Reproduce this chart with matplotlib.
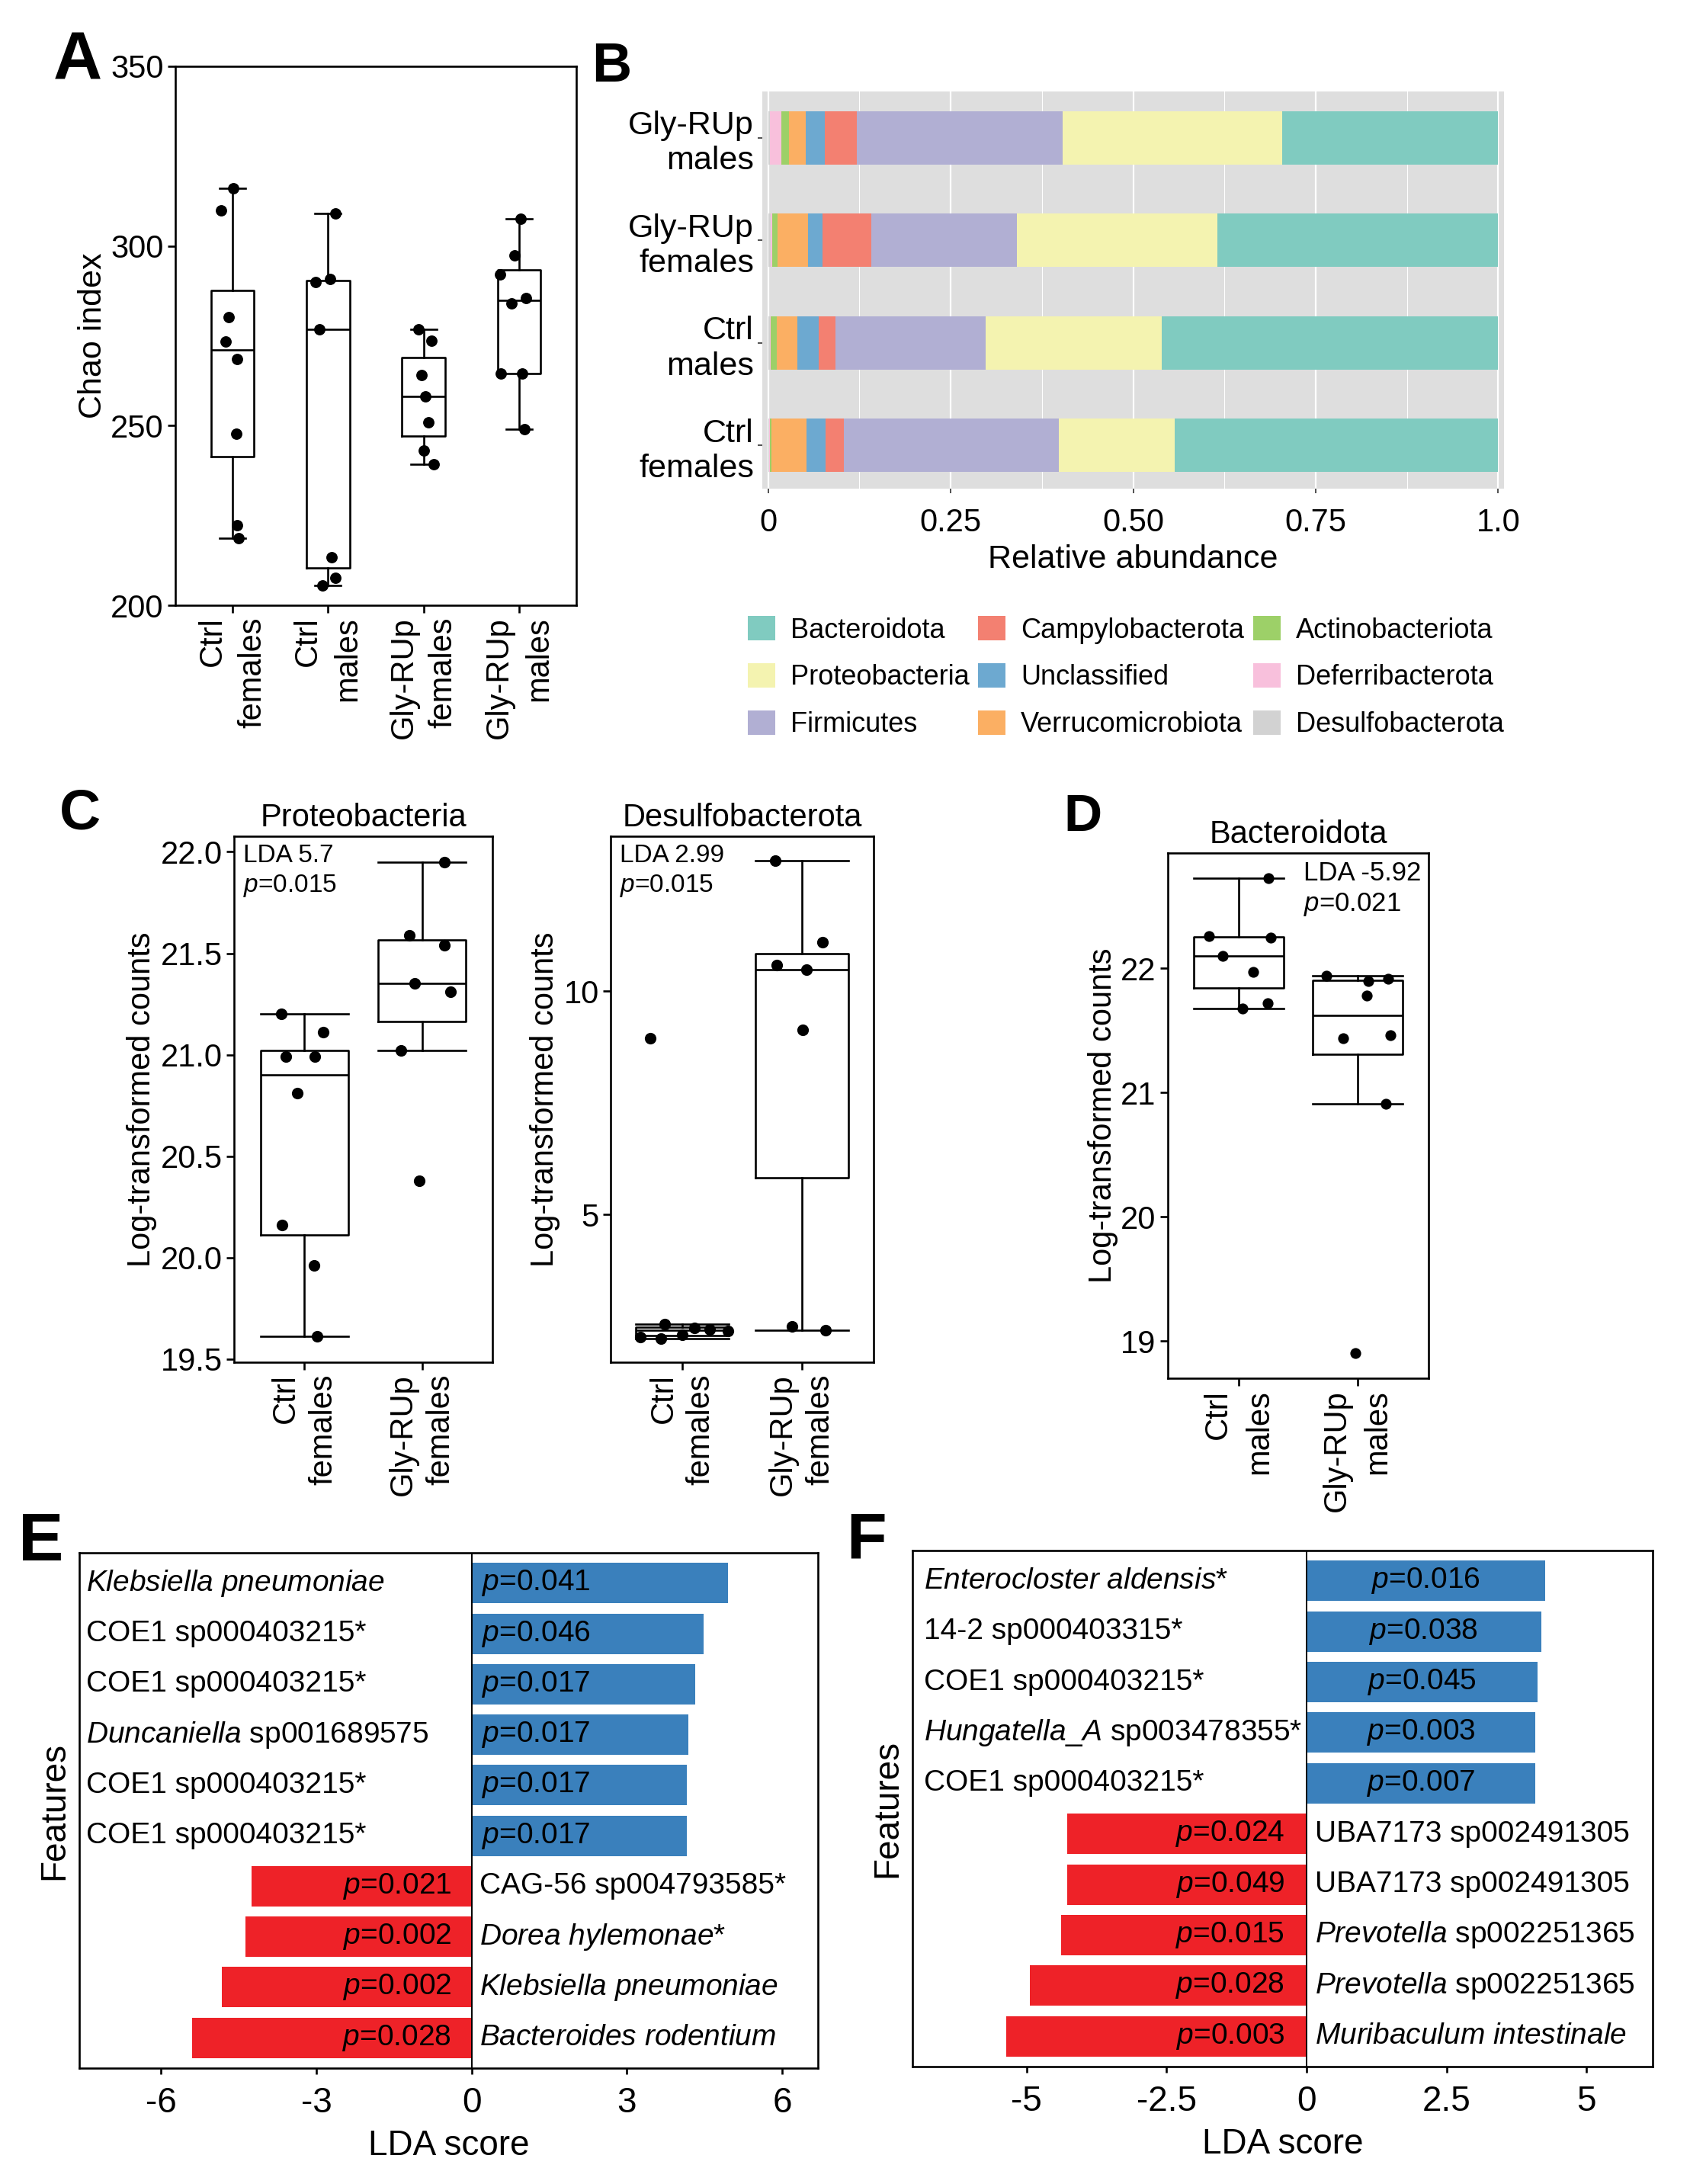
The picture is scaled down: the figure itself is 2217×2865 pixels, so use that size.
import numpy as np
import matplotlib
matplotlib.use("Agg")
import matplotlib.pyplot as plt
from matplotlib.patches import Patch

plt.rcParams['font.family'] = ['Liberation Sans', 'DejaVu Sans']
plt.rcParams['axes.unicode_minus'] = False
plt.rcParams['mathtext.fontset'] = 'custom'
plt.rcParams['mathtext.rm'] = 'Liberation Sans'
plt.rcParams['mathtext.it'] = 'Liberation Sans:italic'
plt.rcParams['mathtext.default'] = 'regular'

# ---------------- data ----------------
# Panel A: Chao index
A_groups = ["Ctrl\nfemales", "Ctrl\nmales", "Gly-RUp\nfemales", "Gly-RUp\nmales"]
A_ctrl_f = [316.0, 309.8, 280.3, 273.4, 268.6, 247.8, 222.2, 218.6]
A_ctrl_f_jit = [0.01, -0.12, -0.04, -0.07, 0.05, 0.04, 0.05, 0.06]
A_ctrl_m = [309.1, 290.9, 289.9, 276.7, 213.3, 207.6, 205.6]
A_ctrl_m_jit = [0.08, 0.02, -0.13, -0.09, 0.04, 0.08, -0.06]
A_gly_f = [276.7, 273.7, 264.0, 258.1, 251.0, 243.1, 239.2]
A_gly_f_jit = [-0.05, 0.08, -0.02, 0.02, 0.05, 0.0, 0.11]
A_gly_m = [307.5, 297.3, 292.0, 285.6, 284.0, 264.6, 264.4, 249.1]
A_gly_m_jit = [0.02, -0.05, -0.2, 0.07, -0.08, 0.03, -0.19, 0.06]

# Panel B: relative abundance (groups bottom -> top)
B_groups = ["Ctrl\nfemales", "Ctrl\nmales", "Gly-RUp\nfemales", "Gly-RUp\nmales"]
B_desulfobacterota = [0.001, 0.002, 0.003, 0.002]
B_deferribacterota = [0.001, 0.002, 0.003, 0.016]
B_actinobacteriota = [0.003, 0.008, 0.007, 0.011]
B_verrucomicrobiota = [0.048, 0.028, 0.042, 0.023]
B_unclassified = [0.026, 0.029, 0.019, 0.026]
B_campylobacterota = [0.025, 0.023, 0.067, 0.044]
B_firmicutes = [0.294, 0.206, 0.200, 0.281]
B_proteobacteria = [0.159, 0.241, 0.274, 0.301]
B_bacteroidota = [0.443, 0.461, 0.385, 0.296]
B_ticks = [0, 0.25, 0.5, 0.75, 1.0]
B_ticklabels = ["0", "0.25", "0.50", "0.75", "1.0"]

# Panel C: Proteobacteria / Desulfobacterota (females)
C_groups = ["Ctrl\nfemales", "Gly-RUp\nfemales"]
C1_ctrl = [21.20, 21.11, 20.99, 20.99, 20.81, 20.16, 19.96, 19.61]
C1_ctrl_jit = [-0.2, 0.16, -0.16, 0.09, -0.06, -0.19, 0.08, 0.11]
C1_gly = [21.95, 21.59, 21.54, 21.35, 21.31, 21.02, 20.38]
C1_gly_jit = [0.19, -0.11, 0.19, -0.06, 0.24, -0.18, -0.02]
C2_ctrl = [8.95, 2.25, 2.22, 2.55, 2.31, 2.45, 2.42, 2.39]
C2_ctrl_jit = [-0.27, -0.35, -0.18, -0.15, 0.0, 0.1, 0.23, 0.38]
C2_gly = [12.92, 11.10, 10.59, 10.49, 9.13, 2.50, 2.41]
C2_gly_jit = [-0.22, 0.17, -0.21, 0.04, 0.01, -0.08, 0.2]

# Panel D: Bacteroidota (males)
D_groups = ["Ctrl\nmales", "Gly-RUp\nmales"]
D_ctrl = [22.73, 22.26, 22.25, 22.10, 21.97, 21.72, 21.68]
D_ctrl_jit = [0.25, -0.25, 0.27, -0.14, 0.12, 0.24, 0.03]
D_gly = [21.94, 21.92, 21.90, 21.78, 21.46, 21.44, 20.91, 18.90]
D_gly_jit = [-0.26, 0.26, 0.09, 0.08, 0.28, -0.12, 0.24, -0.02]

# Panel E: LDA (females)
E_features = [r"$\mathit{Klebsiella\ pneumoniae}$", "COE1 sp000403215*", "COE1 sp000403215*",
              r"$\mathit{Duncaniella}$ sp001689575", "COE1 sp000403215*", "COE1 sp000403215*",
              "CAG-56 sp004793585*", r"$\mathit{Dorea\ hylemonae}$*",
              r"$\mathit{Klebsiella\ pneumoniae}$", r"$\mathit{Bacteroides\ rodentium}$"]
E_lda = [4.95, 4.48, 4.32, 4.19, 4.15, 4.15, -4.25, -4.375, -4.82, -5.40]
E_p = ["0.041", "0.046", "0.017", "0.017", "0.017", "0.017", "0.021", "0.002", "0.002", "0.028"]

# Panel F: LDA (males)
F_features = [r"$\mathit{Enterocloster\ aldensis}$*", "14-2 sp000403315*", "COE1 sp000403215*",
              r"$\mathit{Hungatella\_A}$ sp003478355*", "COE1 sp000403215*",
              "UBA7173 sp002491305", "UBA7173 sp002491305",
              r"$\mathit{Prevotella}$ sp002251365", r"$\mathit{Prevotella}$ sp002251365",
              r"$\mathit{Muribaculum\ intestinale}$"]
F_lda = [4.26, 4.19, 4.12, 4.09, 4.09, -4.28, -4.28, -4.39, -4.94, -5.37]
F_p = ["0.016", "0.038", "0.045", "0.003", "0.007", "0.024", "0.049", "0.015", "0.028", "0.003"]

# ---------------- styling ----------------
W, H = 2217, 2865
fig = plt.figure(figsize=(W / 100, H / 100), dpi=100)

LW = 1.9
BLUE = "#3A80BC"
RED = "#EE2228"
phyla_colors = {
    "Bacteroidota": "#80CBC0", "Proteobacteria": "#F4F3B0", "Firmicutes": "#B1AFD3",
    "Campylobacterota": "#F38071", "Unclassified": "#6DA9D0", "Verrucomicrobiota": "#FBAF63",
    "Actinobacteriota": "#9DD068", "Deferribacterota": "#F8C0DC", "Desulfobacterota": "#D2D2D2",
}


def add_ax(x0, y0, x1, y1):
    return fig.add_axes([x0 / W, 1 - y1 / H, (x1 - x0) / W, (y1 - y0) / H])


def frame(ax, tick_fs):
    for s in ax.spines.values():
        s.set_linewidth(LW)
        s.set_color("black")
    ax.tick_params(axis="both", which="major", length=7, width=LW, labelsize=tick_fs,
                   color="black", labelcolor="black", pad=4)


def box_panel(ax, vals, jits, width, capw, s=115):
    pos = np.arange(1, len(vals) + 1)
    lp = dict(color="black", linewidth=LW)
    ax.boxplot(vals, positions=pos, widths=width, capwidths=capw, showfliers=False,
               boxprops=lp, whiskerprops=lp, capprops=lp, medianprops=lp, manage_ticks=False)
    for p, v, j in zip(pos, vals, jits):
        ax.scatter(p + np.asarray(j), v, s=s, color="black", zorder=3, linewidths=0)


def letter(x, y, t, fs):
    fig.text(x / W, 1 - y / H, t, fontsize=fs, fontweight="bold", ha="left", va="top")


# ---------------- Panel A ----------------
axA = add_ax(230, 87, 756, 794)
box_panel(axA, [A_ctrl_f, A_ctrl_m, A_gly_f, A_gly_m],
          [A_ctrl_f_jit, A_ctrl_m_jit, A_gly_f_jit, A_gly_m_jit], 0.45, 0.27)
axA.set_xlim(0.4, 4.6)
axA.set_ylim(200, 350)
axA.set_yticks([200, 250, 300, 350])
axA.set_xticks(range(1, 5))
axA.set_xticklabels(A_groups, rotation=90, ha="center", va="top", multialignment="right",
                    linespacing=1.4)
frame(axA, 30)
axA.set_ylabel("Chao index", fontsize=31, labelpad=2)
letter(70, 40, "A", 64)

# ---------------- Panel B ----------------
axB = add_ax(1000, 120, 1973, 641)
axB.set_facecolor("#DEDEDE")
for s in axB.spines.values():
    s.set_visible(False)
ypos = np.arange(1, 5)
stack = [("Desulfobacterota", B_desulfobacterota), ("Deferribacterota", B_deferribacterota),
         ("Actinobacteriota", B_actinobacteriota), ("Verrucomicrobiota", B_verrucomicrobiota),
         ("Unclassified", B_unclassified), ("Campylobacterota", B_campylobacterota),
         ("Firmicutes", B_firmicutes), ("Proteobacteria", B_proteobacteria),
         ("Bacteroidota", B_bacteroidota)]
left = np.zeros(4)
for name, vals in stack:
    v = np.asarray(vals)
    axB.barh(ypos, v, left=left, height=0.52, color=phyla_colors[name], linewidth=0, zorder=2)
    left = left + v
axB.set_xlim(-0.008, 1.008)
axB.set_ylim(0.58, 4.45)
axB.set_xticks(B_ticks)
axB.set_xticklabels(B_ticklabels)
axB.set_xticks([0.125, 0.375, 0.625, 0.875], minor=True)
axB.set_yticks(ypos)
axB.set_yticklabels(B_groups, multialignment="right", linespacing=1.2)
axB.grid(which="major", axis="x", color="white", linewidth=1.6, zorder=0)
axB.grid(which="minor", axis="x", color="white", linewidth=0.8, zorder=0)
axB.set_axisbelow(True)
axB.tick_params(axis="both", which="major", length=4, width=1.2, color="#333333",
                labelsize=31, pad=4)
axB.tick_params(axis="x", labelsize=30, pad=14)
axB.tick_params(which="minor", length=0)
axB.set_xlabel("Relative abundance", fontsize=31, labelpad=6)
letter(776, 54, "B", 52)

legend_order = ["Bacteroidota", "Proteobacteria", "Firmicutes", "Campylobacterota",
                "Unclassified", "Verrucomicrobiota", "Actinobacteriota", "Deferribacterota",
                "Desulfobacterota"]
handles = [Patch(facecolor=phyla_colors[n], edgecolor="none", label=n) for n in legend_order]
fig.legend(handles=handles, ncol=3, loc="upper left", bbox_to_anchor=(981 / W, 1 - 808 / H),
           frameon=False, fontsize=26, handlelength=1.0, handleheight=1.0,
           handletextpad=0.55, columnspacing=0.32, labelspacing=0.70, borderaxespad=0,
           borderpad=0)

# ---------------- Panel C ----------------
axC1 = add_ax(307, 1097, 646, 1787)
box_panel(axC1, [C1_ctrl, C1_gly], [C1_ctrl_jit, C1_gly_jit], 0.75, 0.75, s=120)
axC1.set_xlim(0.4, 2.6)
axC1.set_ylim(19.484, 22.077)
axC1.set_yticks([19.5, 20.0, 20.5, 21.0, 21.5, 22.0])
axC1.set_yticklabels(["19.5", "20.0", "20.5", "21.0", "21.5", "22.0"])
axC1.set_xticks([1, 2])
axC1.set_xticklabels(C_groups, rotation=90, ha="center", va="top", multialignment="right",
                     linespacing=1.3)
frame(axC1, 30)
axC1.set_ylabel("Log-transformed counts", fontsize=30, labelpad=3)
axC1.set_title("Proteobacteria", fontsize=30, pad=9)
axC1.text(0.035, 0.985, "LDA 5.7\n$\\mathit{p}$=0.015", transform=axC1.transAxes,
          ha="left", va="top", fontsize=24, linespacing=1.25)

axC2 = add_ax(801, 1097, 1146, 1787)
box_panel(axC2, [C2_ctrl, C2_gly], [C2_ctrl_jit, C2_gly_jit], 0.78, 0.78, s=120)
axC2.set_xlim(0.4, 2.6)
axC2.set_ylim(1.69, 13.47)
axC2.set_yticks([5, 10])
axC2.set_xticks([1, 2])
axC2.set_xticklabels(C_groups, rotation=90, ha="center", va="top", multialignment="right",
                     linespacing=1.3)
frame(axC2, 30)
axC2.set_ylabel("Log-transformed counts", fontsize=30, labelpad=3)
axC2.set_title("Desulfobacterota", fontsize=30, pad=9)
axC2.text(0.035, 0.985, "LDA 2.99\n$\\mathit{p}$=0.015", transform=axC2.transAxes,
          ha="left", va="top", fontsize=24, linespacing=1.25)
letter(78, 1033, "C", 54)

# ---------------- Panel D ----------------
axD = add_ax(1532, 1119, 1874, 1808)
box_panel(axD, [D_ctrl, D_gly], [D_ctrl_jit, D_gly_jit], 0.76, 0.76, s=105)
axD.set_xlim(0.4, 2.6)
axD.set_ylim(18.70, 22.93)
axD.set_yticks([19, 20, 21, 22])
axD.set_xticks([1, 2])
axD.set_xticklabels(D_groups, rotation=90, ha="center", va="top", multialignment="right",
                    linespacing=1.45)
frame(axD, 30)
axD.set_ylabel("Log-transformed counts", fontsize=30, labelpad=2)
axD.set_title("Bacteroidota", fontsize=30, pad=9)
axD.text(0.52, 0.985, "LDA -5.92\n$\\mathit{p}$=0.021", transform=axD.transAxes,
         ha="left", va="top", fontsize=25, linespacing=1.25)
letter(1395, 1040, "D", 50)


# ---------------- Panels E / F ----------------
def lda_panel(ax, feats, lda, pvals, xlim, ticks, ticklabels, name_x, centered_blue):
    y = np.arange(1, len(feats) + 1)
    cols = [BLUE if v > 0 else RED for v in lda]
    ax.barh(y, lda, height=0.8, color=cols, linewidth=0, zorder=2)
    ax.axvline(0, color="black", linewidth=1.4, zorder=3)
    for yi, f, v, p in zip(y, feats, lda, pvals):
        ptxt = "$\\mathit{p}$=" + p
        if v > 0:
            ax.text(name_x, yi, f, ha="left", va="center", fontsize=28, zorder=4)
            if centered_blue:
                ax.text(v / 2, yi, ptxt, ha="center", va="center", fontsize=28, zorder=4)
            else:
                ax.text(0.19, yi, ptxt, ha="left", va="center", fontsize=28, zorder=4)
        else:
            ax.text(-0.39, yi, ptxt, ha="right", va="center", fontsize=28, zorder=4)
            ax.text(0.15, yi, f, ha="left", va="center", fontsize=28, zorder=4)
    ax.set_ylim(len(feats) + 0.6, 0.4)
    ax.set_xlim(*xlim)
    ax.set_yticks([])
    ax.set_xticks(ticks)
    ax.set_xticklabels(ticklabels)
    frame(ax, 33)
    ax.tick_params(axis="x", length=6, pad=11)
    ax.set_xlabel("LDA score", fontsize=33, labelpad=9)
    ax.set_ylabel("Features", fontsize=33, labelpad=8)


axE = add_ax(104, 2037, 1073, 2713)
lda_panel(axE, E_features, E_lda, E_p, (-7.58, 6.69), [-6, -3, 0, 3, 6],
          ["-6", "-3", "0", "3", "6"], -7.45, False)
letter(24, 1982, "E", 64)

axF = add_ax(1197, 2034, 2168, 2711)
lda_panel(axF, F_features, F_lda, F_p, (-7.04, 6.18), [-5, -2.5, 0, 2.5, 5],
          ["-5", "-2.5", "0", "2.5", "5"], -6.84, True)
letter(1110, 1982, "F", 62)

fig.savefig("out.png", dpi=100, facecolor="white")
